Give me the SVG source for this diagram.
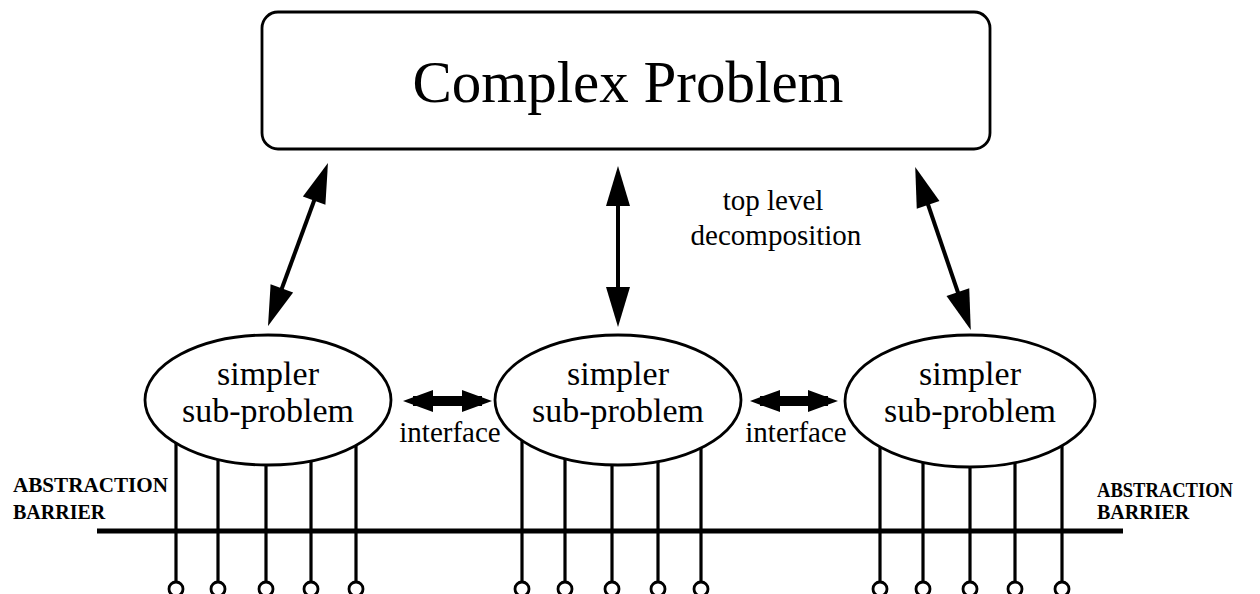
<svg xmlns="http://www.w3.org/2000/svg" width="1260" height="594" viewBox="0 0 1260 594">
<style>
text{font-family:"Liberation Serif","Times New Roman",serif;fill:#000}
.node{fill:#fff;stroke:#000;stroke-width:2.8}
.pin{stroke:#000;stroke-width:3.2;fill:none}
.term{fill:#fff;stroke:#000;stroke-width:2.8}
.dec{stroke:#000;stroke-width:4;fill:none;marker-start:url(#head);marker-end:url(#head)}
.ifc{stroke:#000;stroke-width:10;fill:none;marker-start:url(#fat);marker-end:url(#fat)}
.bar{stroke:#000;stroke-width:5}
.ab{font-size:20px;font-weight:bold}
</style>
<defs>
<marker id="head" markerUnits="userSpaceOnUse" orient="auto-start-reverse" refX="32" refY="12" markerWidth="40" markerHeight="24" overflow="visible">
<path d="M0,0 L40,12 L0,24 Z" fill="#000"/>
</marker>
<marker id="fat" markerUnits="userSpaceOnUse" orient="auto-start-reverse" refX="20" refY="11" markerWidth="30" markerHeight="22" overflow="visible">
<path d="M0,0 L30,11 L0,22 Z" fill="#000"/>
</marker>
</defs>
<rect width="1260" height="594" fill="#fff"/>

<g id="connectors">
<line class="dec" x1="325.2" y1="170.5" x2="270.8" y2="318.5"/>
<line class="dec" x1="618" y1="174" x2="618" y2="319"/>
<line class="dec" x1="917.8" y1="174.5" x2="968.2" y2="322.5"/>
<line class="ifc" x1="413" y1="401" x2="482" y2="401"/>
<line class="ifc" x1="760" y1="401" x2="828" y2="401"/>
<line class="bar" x1="97" y1="531" x2="1123" y2="531"/>
<g class="pin">
<line x1="176" y1="420" x2="176" y2="582"/>
<line x1="218" y1="420" x2="218" y2="582"/>
<line x1="266" y1="420" x2="266" y2="582"/>
<line x1="311" y1="420" x2="311" y2="582"/>
<line x1="356" y1="420" x2="356" y2="582"/>
<line x1="522" y1="420" x2="522" y2="582"/>
<line x1="565" y1="420" x2="565" y2="582"/>
<line x1="612" y1="420" x2="612" y2="582"/>
<line x1="658" y1="420" x2="658" y2="582"/>
<line x1="701" y1="420" x2="701" y2="582"/>
<line x1="880" y1="420" x2="880" y2="582"/>
<line x1="923" y1="420" x2="923" y2="582"/>
<line x1="970" y1="420" x2="970" y2="582"/>
<line x1="1015" y1="420" x2="1015" y2="582"/>
<line x1="1062" y1="420" x2="1062" y2="582"/>
</g>
<g class="term">
<circle cx="176" cy="589" r="7"/><circle cx="218" cy="589" r="7"/><circle cx="266" cy="589" r="7"/><circle cx="311" cy="589" r="7"/><circle cx="356" cy="589" r="7"/>
<circle cx="522" cy="589" r="7"/><circle cx="565" cy="589" r="7"/><circle cx="612" cy="589" r="7"/><circle cx="658" cy="589" r="7"/><circle cx="701" cy="589" r="7"/>
<circle cx="880" cy="589" r="7"/><circle cx="923" cy="589" r="7"/><circle cx="970" cy="589" r="7"/><circle cx="1015" cy="589" r="7"/><circle cx="1062" cy="589" r="7"/>
</g>
</g>

<g id="complex-problem">
<rect class="node" x="262" y="12" width="728" height="137" rx="16" ry="16"/>
<text x="628" y="102" font-size="59" text-anchor="middle">Complex Problem</text>
</g>

<g id="sub-problem-1">
<ellipse class="node" cx="268" cy="400" rx="123" ry="65"/>
<text x="268" y="385" font-size="34" text-anchor="middle">simpler</text>
<text x="268" y="422" font-size="34" text-anchor="middle">sub-problem</text>
</g>
<g id="sub-problem-2">
<ellipse class="node" cx="618" cy="400" rx="123" ry="65"/>
<text x="618" y="385" font-size="34" text-anchor="middle">simpler</text>
<text x="618" y="422" font-size="34" text-anchor="middle">sub-problem</text>
</g>
<g id="sub-problem-3">
<ellipse class="node" cx="970" cy="401" rx="125" ry="66"/>
<text x="970" y="385" font-size="34" text-anchor="middle">simpler</text>
<text x="970" y="422" font-size="34" text-anchor="middle">sub-problem</text>
</g>

<g id="labels">
<text x="773" y="210" font-size="29" text-anchor="middle">top level</text>
<text x="776" y="245" font-size="29" text-anchor="middle">decomposition</text>
<text x="450" y="442" font-size="29" text-anchor="middle">interface</text>
<text x="796" y="442" font-size="29" text-anchor="middle">interface</text>
<text class="ab" x="13" y="492" textLength="155" lengthAdjust="spacingAndGlyphs">ABSTRACTION</text>
<text class="ab" x="13" y="519">BARRIER</text>
<text class="ab" x="1097" y="497" textLength="136" lengthAdjust="spacingAndGlyphs">ABSTRACTION</text>
<text class="ab" x="1097" y="519">BARRIER</text>
</g>
</svg>
